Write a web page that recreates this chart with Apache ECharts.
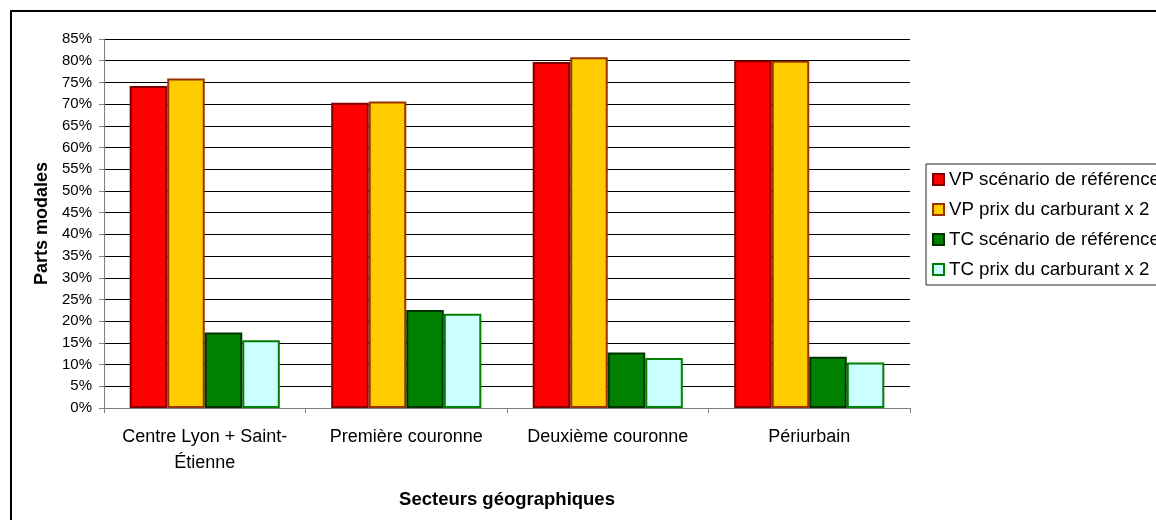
<!DOCTYPE html>
<html>
<head>
<meta charset="utf-8">
<script src="https://cdn.jsdelivr.net/npm/echarts@6/dist/echarts.min.js"></script>
<style>
html,body{margin:0;padding:0;background:#fff;}
#chart{width:1156px;height:520px;}
</style>
</head>
<body>
<div id="chart"></div>
<script>
const categories = ["Centre Lyon + Saint-Étienne", "Première couronne", "Deuxième couronne", "Périurbain"];
const seriesNames = ["VP scénario de référence", "VP prix du carburant x 2", "TC scénario de référence", "TC prix du carburant x 2"];
const vpReference = [74.2, 70.3, 79.7, 80.1];
const vpFuelX2 = [75.9, 70.6, 80.8, 80.0];
const tcReference = [17.4, 22.6, 12.8, 11.8];
const tcFuelX2 = [15.6, 21.7, 11.5, 10.5];
const yTicks = {min: 0, max: 85, interval: 5};

const fills = ["#FF0000", "#FFCC00", "#008000", "#CCFFFF"];
const borders = ["#800000", "#993300", "#003300", "#008000"];
const values = [vpReference, vpFuelX2, tcReference, tcFuelX2];

const chart = echarts.init(document.getElementById('chart'));
const font = "'Liberation Sans', Arial, sans-serif";

chart.setOption({
  animation: false,
  backgroundColor: '#fff',
  textStyle: {fontFamily: font, color: '#000'},
  graphic: [{
    type: 'rect', silent: true, z: -10,
    shape: {x: 11, y: 11, width: 1300, height: 700},
    style: {fill: 'none', stroke: '#000', lineWidth: 2}
  }],
  grid: {left: 104, right: 246, top: 39, bottom: 112, containLabel: false},
  legend: {
    orient: 'vertical',
    left: 926, top: 164,
    padding: [6, 30, 6, 6],
    itemWidth: 11, itemHeight: 11,
    itemGap: 11,
    borderColor: '#222', borderWidth: 1,
    backgroundColor: '#fff',
    icon: 'rect',
    textStyle: {fontFamily: font, fontSize: 18.7, color: '#000', lineHeight: 19},
    data: seriesNames
  },
  xAxis: {
    type: 'category',
    data: categories,
    name: 'Secteurs géographiques',
    nameLocation: 'middle',
    nameGap: 82,
    nameTextStyle: {fontFamily: font, fontSize: 18.5, fontWeight: 'bold', color: '#000'},
    axisLine: {lineStyle: {color: '#808080', width: 1}},
    axisTick: {show: true, length: 5, lineStyle: {color: '#808080'}},
    axisLabel: {
      interval: 0, margin: 16, fontSize: 18, color: '#000', lineHeight: 26, fontFamily: font,
      formatter: v => v.replace('Saint-', 'Saint-\n')
    }
  },
  yAxis: {
    type: 'value',
    min: yTicks.min, max: yTicks.max, interval: yTicks.interval,
    name: 'Parts modales',
    nameLocation: 'middle',
    nameGap: 53,
    nameTextStyle: {fontFamily: font, fontSize: 18, fontWeight: 'bold', color: '#000'},
    axisLine: {show: true, lineStyle: {color: '#808080', width: 1}},
    axisTick: {show: true, length: 5, lineStyle: {color: '#808080'}},
    axisLabel: {margin: 12, fontSize: 15, color: '#000', fontFamily: font, formatter: '{value}%'},
    splitLine: {show: true, lineStyle: {color: '#000', width: 1}}
  },
  series: seriesNames.map((name, i) => ({
    name: name,
    type: 'bar',
    data: values[i],
    barGap: '0%',
    barCategoryGap: '25.5%',
    itemStyle: {color: fills[i], borderColor: borders[i], borderWidth: 2}
  }))
});
</script>
</body>
</html>
